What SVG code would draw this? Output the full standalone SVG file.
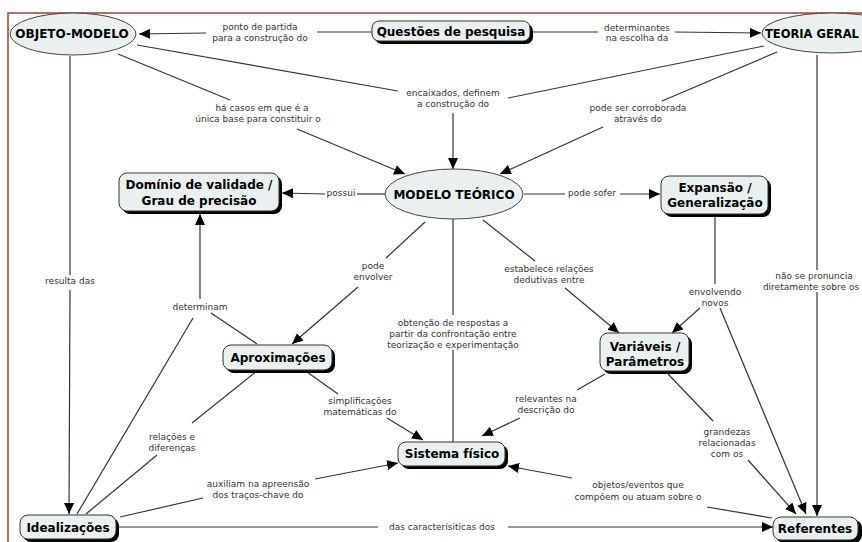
<svg xmlns="http://www.w3.org/2000/svg" width="862" height="542" viewBox="0 0 862 542">
<defs>
<marker id="ah" markerUnits="userSpaceOnUse" markerWidth="12" markerHeight="10" refX="11" refY="5" orient="auto">
<path d="M0,0 L11,5 L0,10 z" fill="#000"/>
</marker>
</defs>
<style>
.ln{fill:none;stroke:#333;stroke-width:1.2}
.ar{fill:none;stroke:#333;stroke-width:1.2;marker-end:url(#ah)}
.lb{font-family:"DejaVu Sans",Verdana,sans-serif;font-size:9px;fill:#333;text-anchor:middle}
.nt{font-family:"DejaVu Sans",Verdana,sans-serif;font-size:12px;font-weight:bold;fill:#000;text-anchor:middle}
.bx{fill:#eaf0f0;stroke:#333;stroke-width:1}
.sh{fill:#000}
.el{fill:#eaf0f0;stroke:#444;stroke-width:1}
</style>
<rect x="0" y="0" width="862" height="542" fill="#fff"/>
<path d="M8,542 L8,13 L862,13" fill="none" stroke="#a83a3a" stroke-width="1.5"/>

<g id="connectors">
<path class="ln" d="M372,32 L317,32"/>
<path class="ar" d="M206,33 L139,34"/>
<path class="ln" d="M533,32 L598,32"/>
<path class="ar" d="M675,32 L761,33"/>
<path class="ln" d="M137,45 L398,91"/>
<path class="ln" d="M764,46 L508,98"/>
<path class="ar" d="M453,113 L453,169"/>
<path class="ln" d="M118,54 L230,100"/>
<path class="ar" d="M297,129 L405,174"/>
<path class="ln" d="M777,52 L662,101"/>
<path class="ar" d="M603,127 L500,174"/>
<path class="ln" d="M817,55 L817,270"/>
<path class="ar" d="M817,292 L817,516"/>
<path class="ln" d="M70,56 L70,275"/>
<path class="ar" d="M70,290 L69,514"/>
<path class="ln" d="M385,194 L357,194"/>
<path class="ar" d="M325,194 L282,193"/>
<path class="ln" d="M524,194 L565,194"/>
<path class="ar" d="M620,194 L660,194"/>
<path class="ln" d="M425,222 L386,258"/>
<path class="ar" d="M358,287 L292,344"/>
<path class="ln" d="M453,219 L453,315"/>
<path class="ln" d="M453,350 L453,442"/>
<path class="ln" d="M483,220 L535,261"/>
<path class="ar" d="M565,288 L619,333"/>
<path class="ln" d="M715,216 L715,284"/>
<path class="ar" d="M700,308 L672,333"/>
<path class="ar" d="M720,308 L806,514"/>
<path class="ln" d="M257,344 L211,313"/>
<path class="ar" d="M200,299 L200,214"/>
<path class="ln" d="M193,318 L77,514"/>
<path class="ln" d="M307,372 L338,394"/>
<path class="ar" d="M387,418 L423,440"/>
<path class="ln" d="M86,514 L157,455"/>
<path class="ln" d="M192,423 L257,371"/>
<path class="ln" d="M120,517 L203,498"/>
<path class="ar" d="M315,479 L398,463"/>
<path class="ln" d="M118,527 L378,527"/>
<path class="ar" d="M508,527 L773,527"/>
<path class="ln" d="M605,374 L577,390"/>
<path class="ar" d="M520,418 L482,436"/>
<path class="ln" d="M668,374 L713,421"/>
<path class="ar" d="M748,460 L796,514"/>
<path class="ln" d="M772,518 L707,507"/>
<path class="ar" d="M572,478 L508,466"/>
</g>

<g id="linking-labels">
<text class="lb" x="260" y="30">ponto de partida</text>
<text class="lb" x="260" y="41">para a construção do</text>
<text class="lb" x="637" y="31">determinantes</text>
<text class="lb" x="637" y="41">na escolha da</text>
<text class="lb" x="453" y="96">encaixados, definem</text>
<text class="lb" x="453" y="107">a construção do</text>
<text class="lb" x="262" y="111">há casos em que é a</text>
<text class="lb" x="258" y="122">única base para constituir o</text>
<text class="lb" x="638" y="111">pode ser corroborada</text>
<text class="lb" x="638" y="122">através do</text>
<text class="lb" x="70" y="284">resulta das</text>
<text class="lb" x="341" y="196">possui</text>
<text class="lb" x="592" y="196">pode sofer</text>
<text class="lb" x="373" y="269">pode</text>
<text class="lb" x="373" y="280">envolver</text>
<text class="lb" x="549" y="272">estabelece relações</text>
<text class="lb" x="549" y="283">dedutivas entre</text>
<text class="lb" x="453" y="326">obtenção de respostas a</text>
<text class="lb" x="453" y="337">partir da confrontação entre</text>
<text class="lb" x="453" y="348">teorização e experimentação</text>
<text class="lb" x="200" y="310">determinam</text>
<text class="lb" x="715" y="295">envolvendo</text>
<text class="lb" x="715" y="306">novos</text>
<text class="lb" x="814" y="279">não se pronuncia</text>
<text class="lb" x="811" y="290">diretamente sobre os</text>
<text class="lb" x="360" y="404">simplificações</text>
<text class="lb" x="360" y="415">matemáticas do</text>
<text class="lb" x="546" y="402">relevantes na</text>
<text class="lb" x="546" y="413">descrição do</text>
<text class="lb" x="172" y="440">relações e</text>
<text class="lb" x="172" y="451">diferenças</text>
<text class="lb" x="727" y="435">grandezas</text>
<text class="lb" x="727" y="446">relacionadas</text>
<text class="lb" x="727" y="457">com os</text>
<text class="lb" x="258" y="487">auxiliam na apreensão</text>
<text class="lb" x="258" y="498">dos traços-chave do</text>
<text class="lb" x="638" y="488">objetos/eventos que</text>
<text class="lb" x="638" y="500">compõem ou atuam sobre o</text>
<text class="lb" x="442" y="530">das caracterísiticas dos</text>
</g>

<g id="objeto-modelo">
<ellipse class="el" cx="73" cy="34" rx="63" ry="21"/>
<text class="nt" x="72" y="38">OBJETO-MODELO</text>
</g>
<g id="questoes">
<rect class="sh" x="375" y="24" width="158" height="20" rx="7"/>
<rect class="bx" x="372" y="21" width="158" height="20" rx="7"/>
<text class="nt" x="451" y="35.5">Questões de pesquisa</text>
</g>
<g id="teoria-geral">
<ellipse class="el" cx="832" cy="33" rx="70" ry="20"/>
<text class="nt" x="765" y="37.5" style="text-anchor:start;font-size:11.5px">TEORIA GERAL</text>
</g>
<g id="modelo-teorico">
<ellipse class="el" cx="454" cy="194" rx="69" ry="25"/>
<text class="nt" x="454" y="198.5">MODELO TEÓRICO</text>
</g>
<g id="dominio">
<rect class="sh" x="122" y="176" width="160" height="38" rx="8"/>
<rect class="bx" x="119" y="173" width="160" height="38" rx="8"/>
<text class="nt" x="199" y="189">Domínio de validade /</text>
<text class="nt" x="199" y="205">Grau de precisão</text>
</g>
<g id="expansao">
<rect class="sh" x="664" y="179" width="107" height="38" rx="8"/>
<rect class="bx" x="661" y="176" width="107" height="38" rx="8"/>
<text class="nt" x="715" y="192">Expansão /</text>
<text class="nt" x="715" y="207">Generalização</text>
</g>
<g id="aproximacoes">
<rect class="sh" x="226" y="348" width="109" height="25" rx="8"/>
<rect class="bx" x="223" y="345" width="109" height="25" rx="8"/>
<text class="nt" x="278" y="362">Aproximações</text>
</g>
<g id="variaveis">
<rect class="sh" x="603" y="336" width="89" height="38" rx="8"/>
<rect class="bx" x="600" y="333" width="89" height="38" rx="8"/>
<text class="nt" x="645" y="351">Variáveis /</text>
<text class="nt" x="645" y="366">Parâmetros</text>
</g>
<g id="sistema-fisico">
<rect class="sh" x="401" y="445" width="107" height="24" rx="8"/>
<rect class="bx" x="398" y="442" width="107" height="24" rx="8"/>
<text class="nt" x="452" y="458">Sistema físico</text>
</g>
<g id="idealizacoes">
<rect class="sh" x="23" y="518" width="96" height="24" rx="8"/>
<rect class="bx" x="20" y="515" width="96" height="24" rx="8"/>
<text class="nt" x="68" y="531.5">Idealizações</text>
</g>
<g id="referentes">
<rect class="sh" x="776" y="520" width="86" height="23" rx="8"/>
<rect class="bx" x="773" y="517" width="85" height="23" rx="8"/>
<text class="nt" x="815" y="533">Referentes</text>
</g>
</svg>
